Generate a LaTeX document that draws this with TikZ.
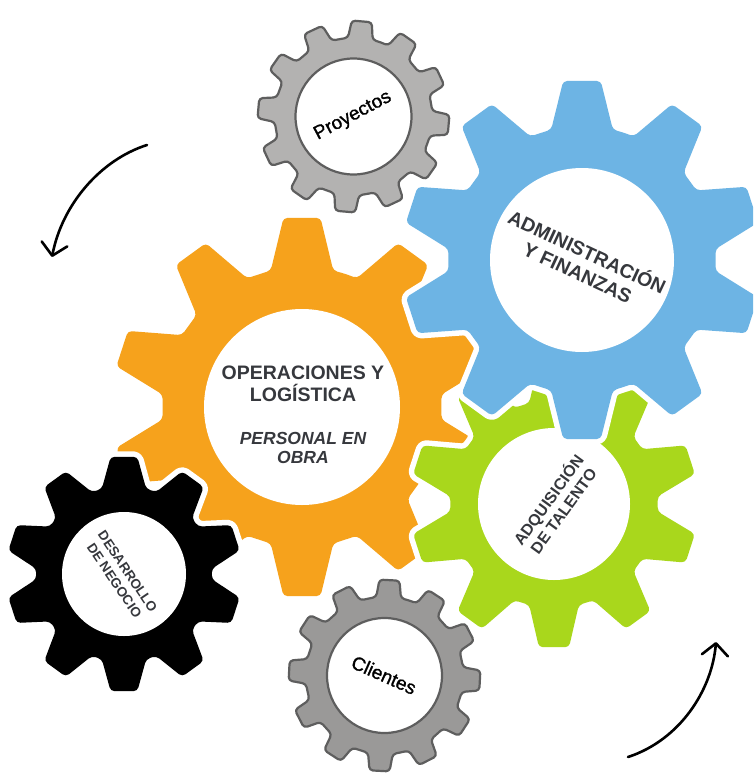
\documentclass[tikz,border=0pt]{standalone}
\usepackage{fontspec}
\setmainfont{Liberation Sans}
\newfontfamily\medfont[FakeBold=1.2]{Liberation Sans}
\usetikzlibrary{arrows.meta}
\definecolor{gorange}{HTML}{F6A21C}
\definecolor{gblue}{HTML}{6DB4E4}
\definecolor{ggreen}{HTML}{A9D71C}
\definecolor{glight}{HTML}{B3B2B1}
\definecolor{gdark}{HTML}{9A9998}
\definecolor{gline}{HTML}{5E5E5E}
\definecolor{txt}{HTML}{36383D}
% #1 options, #2 cx, #3 cy, #4 n, #5 Rtip, #6 Rroot, #7 phase, #8 tip half-angle, #9 base half-angle
\newcommand\gearpath[9]{%
  \path[#1, shift={(#2,#3)}] ({#7-180/#4}:#6)
    \foreach \k [evaluate=\k as \a using {#7+(\k-1)*360/#4}] in {1,...,#4}{
      -- ({\a-#9}:#6) -- ({\a-#8}:#5) -- ({\a+#8}:#5) -- ({\a+#9}:#6)
    } -- cycle;
}
\tikzset{
  colgear/.style={fill=#1, rounded corners=4pt, line join=round,
    preaction={draw=white, line width=11pt, line join=round}},
  graygear/.style={fill=#1, draw=gline, line width=2.2pt, rounded corners=3.5pt, line join=round},
  hole/.style={fill=white},
  grayhole/.style={fill=white, draw=gline, line width=2.2pt},
  lbl/.style={inner sep=0pt, text=black, font=\medfont\fontsize{19}{22}\selectfont},
  ttl/.style={inner sep=0pt, text=txt, align=center, font=\bfseries\fontsize{19.5}{22.5}\selectfont},
  ttlit/.style={inner sep=0pt, text=txt, align=center, font=\bfseries\itshape\fontsize{17.5}{19.5}\selectfont},
  ttlmid/.style={inner sep=0pt, text=txt, align=center, font=\bfseries\fontsize{16}{18.5}\selectfont},
  ttlsmall/.style={inner sep=0pt, text=txt, align=center, font=\bfseries\fontsize{13.5}{16}\selectfont},
  arr/.style={line width=2.6pt, line cap=round, -{Straight Barb[length=12pt,width=26pt,line cap=round,line join=round]}}
}
\begin{document}
\begin{tikzpicture}[x=1pt,y=1pt]
\useasboundingbox (0,0) rectangle (753,-774);
\clip (0,0) rectangle (753,-774);
% orange gear
\gearpath{colgear=gorange}{302}{-407}{10}{190}{140}{90}{5.6}{12.9}
\fill[hole] (302,-407) circle (98);
% green gear
\gearpath{colgear=ggreen}{554}{-504}{10}{144}{104}{90}{6}{13.8}
\fill[hole] (554,-504) circle (76);
% blue gear
\gearpath{colgear=gblue}{582}{-260}{10}{180}{134}{90}{6}{13.3}
\fill[hole] (582,-260) circle (92);
% black gear
\gearpath{colgear=black}{124}{-574}{10}{118}{88}{90}{6.5}{14.6}
\fill[hole] (124,-574) circle (62);
% gray gears
\gearpath{graygear=glight}{353.5}{-116.5}{12}{96}{79}{85}{6}{9}
\path[grayhole] (353.5,-116.5) circle (58);
\gearpath{graygear=gdark}{384.5}{-675.5}{12}{96}{79}{87}{6}{9}
\path[grayhole] (384.5,-675.5) circle (57.5);
% labels
\node[lbl, rotate=28] (proy) at (353,-116) {Proyectos};
\node[lbl, rotate=-24] (cli) at (384,-675) {Clientes};
\node[ttl, rotate=-25] (admin) at (583,-261) {ADMINISTRACIÓN\\Y FINANZAS};
\node[ttl] (ope) at (303,-384) {OPERACIONES Y\\LOGÍSTICA};
\node[ttlit] (pers) at (303,-448) {PERSONAL EN\\OBRA};
\node[ttlsmall, rotate=-56] (des) at (121,-576) {DESARROLLO\\DE NEGOCIO};
\node[ttlmid, rotate=54] (adq) at (555,-505) {ADQUISICIÓN\\DE TALENTO};
% arrows
\coordinate (a1s) at (147,-145);
\coordinate (a1e) at (52,-257);
\draw[arr] (a1s) .. controls (100,-160) and (62,-205) .. (a1e);
\coordinate (a2s) at (628,-757);
\coordinate (a2e) at (716,-642);
\draw[arr] (a2s) .. controls (680,-740) and (712,-690) .. (a2e);
\end{tikzpicture}
\end{document}
